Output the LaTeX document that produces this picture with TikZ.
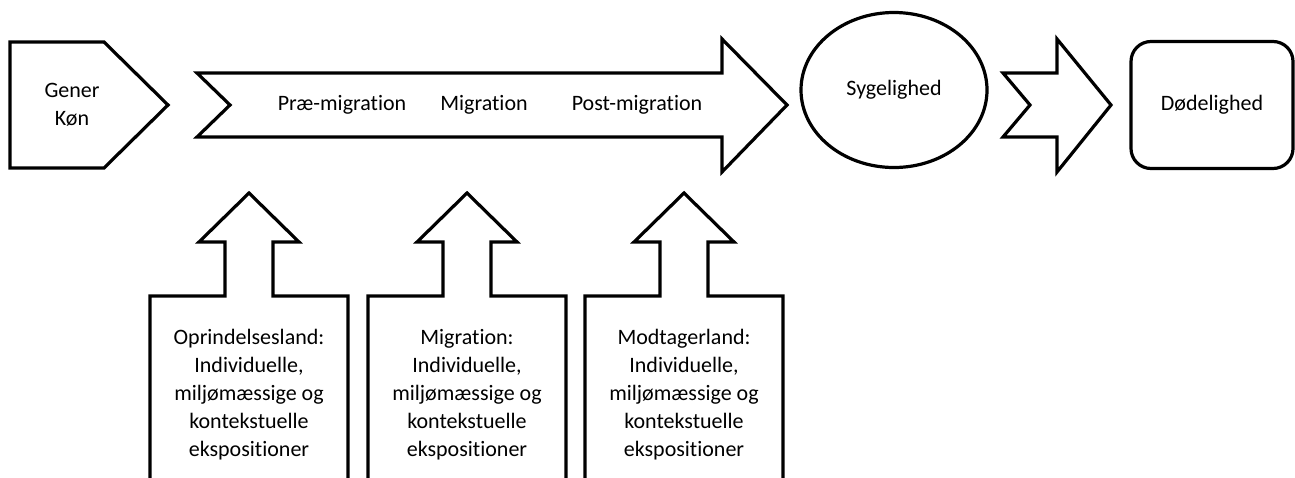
\documentclass[tikz,border=0pt]{standalone}
\usepackage{fontspec}
\setmainfont{Carlito}[Ligatures={NoCommon}]
\usetikzlibrary{shapes.geometric}
\tikzstyle{blk}=[line width=1.6pt, line join=miter]
\tikzstyle{lbl}=[align=center, font=\fontsize{11}{14}\selectfont, inner sep=0]

\begin{document}
\begin{tikzpicture}[x=.5pt, y=-.5pt]
\useasboundingbox (0,0) rectangle (1295,477);
\draw[blk] (10,42)--(104,42)--(168,105)--(104,168)--(10,168)--cycle;
\node at (72,105)[lbl](gener){Gener\\Køn};
\draw[blk] (197,73)--(722,73)--(722,39)--(787,105)--(722,172)--(722,137)--(197,137)--(230,105)--cycle;
\node at (342,105)[lbl](pre){Præ-migration};
\node at (484,105)[lbl](mig){Migration};
\node at (637,105)[lbl](post){Post-migration};
\node at (894,90)[lbl, blk, draw, ellipse, minimum width=93pt, minimum height=77.5pt](syg){Sygelighed};
\draw[blk] (1003,73)--(1057,73)--(1057,39)--(1111,105)--(1057,172)--(1057,137)--(1003,137)--(1030,105)--cycle;
\node at (1212,105)[lbl, blk, draw, rounded corners=10pt, minimum width=81pt, minimum height=63.5pt](dod){Dødelighed};
\foreach \x/\t [count=\i] in {249/Oprindelsesland, 467/Migration, 684/Modtagerland} {
  \draw[blk] (\x-99,490)--(\x-99,296)--(\x-24,296)--(\x-24,242)--(\x-50,242)--(\x,193)--(\x+50,242)--(\x+24,242)--(\x+24,296)--(\x+99,296)--(\x+99,490);
  \node at (\x,395)[lbl](exp\i){\t:\\Individuelle,\\miljømæssige og\\kontekstuelle\\ekspositioner};
}
\end{tikzpicture}
\end{document}
